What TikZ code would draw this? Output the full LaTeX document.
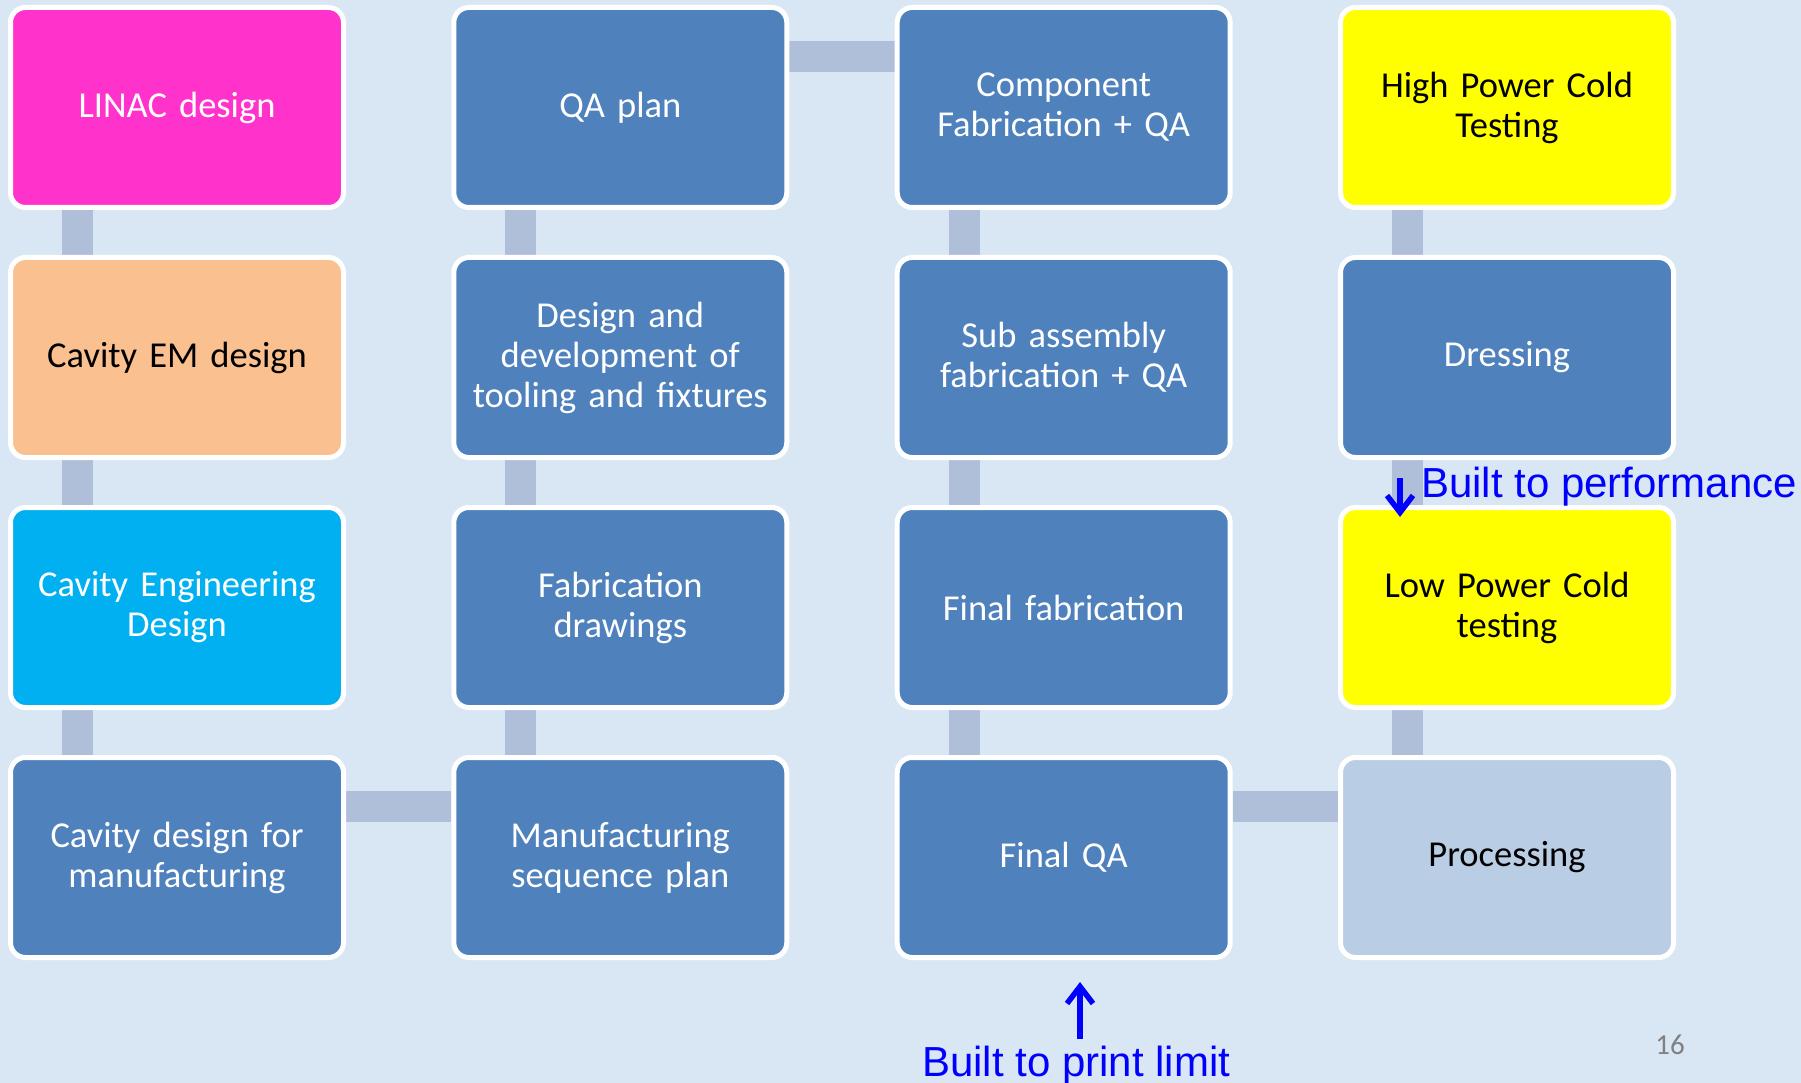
\documentclass[tikz,border=0pt]{standalone}
\usepackage{fontspec}
\setmainfont{Carlito}
\newfontfamily\arialfont{Liberation Sans}
\usetikzlibrary{arrows.meta}
\pgfdeclarelayer{bg}
\pgfdeclarelayer{links}
\pgfsetlayers{bg,links,main}
\definecolor{bgcol}{HTML}{D9E6F4}
\definecolor{pinkbox}{HTML}{FF33CC}
\definecolor{peachbox}{HTML}{FAC090}
\definecolor{cyanbox}{HTML}{00B0F0}
\definecolor{bluebox}{HTML}{4F81BD}
\definecolor{yellowbox}{HTML}{FFFF00}
\definecolor{lightbox}{HTML}{B9CDE5}
\definecolor{linkcol}{HTML}{AFBFDA}
\definecolor{notecol}{HTML}{0000FF}
\definecolor{pagecol}{HTML}{808080}
\tikzset{
  box/.style={rectangle, rounded corners=15pt, draw=white, line width=5pt,
    minimum width=333pt, minimum height=200pt, text width=318pt, inner sep=0pt,
    align=center, font=\fontsize{36.5}{40}\selectfont},
  whitebox/.style={box, fill=#1, text=white},
  blackbox/.style={box, fill=#1, text=black},
  link/.style={draw=linkcol, line width=31pt},
  note/.style={text=notecol, font=\arialfont\fontsize{42}{46}\selectfont, inner sep=0pt},
  notearrow/.style={draw=notecol, line width=5.5pt, -{Straight Barb[length=17pt,width=26pt]}}
}
\begin{document}
\begin{tikzpicture}[x=1pt, y=-1pt]
\begin{pgfonlayer}{bg}
\fill[bgcol] (0,0) rectangle (1801,1083);
\end{pgfonlayer}
\useasboundingbox (0,0) rectangle (1801,1083);

% column 1
\node[whitebox=pinkbox] (a1) at (177,107.5) {LINAC design};
\node[blackbox=peachbox] (a2) at (177,357.5) {Cavity EM design};
\node[whitebox=cyanbox] (a3) at (177,607.5) {Cavity Engineering\\Design};
\node[whitebox=bluebox] (a4) at (177,857.5) {Cavity design for\\manufacturing};
% column 2
\node[whitebox=bluebox] (b1) at (620.3,107.5) {QA plan};
\node[whitebox=bluebox] (b2) at (620.3,357.5) {Design and\\development of\\tooling and fixtures};
\node[whitebox=bluebox] (b3) at (620.3,607.5) {Fabrication\\drawings};
\node[whitebox=bluebox] (b4) at (620.3,857.5) {Manufacturing\\sequence plan};
% column 3
\node[whitebox=bluebox] (c1) at (1063.7,107.5) {Component\\Fabrication + QA};
\node[whitebox=bluebox] (c2) at (1063.7,357.5) {Sub assembly\\fabrication + QA};
\node[whitebox=bluebox] (c3) at (1063.7,607.5) {Final fabrication};
\node[whitebox=bluebox] (c4) at (1063.7,857.5) {Final QA};
% column 4
\node[blackbox=yellowbox] (d1) at (1507,107.5) {High Power Cold\\Testing};
\node[whitebox=bluebox] (d2) at (1507,357.5) {Dressing};
\node[blackbox=yellowbox] (d3) at (1507,607.5) {Low Power Cold\\testing};
\node[blackbox=lightbox] (d4) at (1507,857.5) {Processing};

\begin{pgfonlayer}{links}
\foreach \u/\v in {a1/a2,a2/a3,a3/a4,b1/b2,b2/b3,b3/b4,c1/c2,c2/c3,c3/c4,d1/d2,d2/d3,d3/d4}
  \draw[link] ([xshift=-99.5pt]\u.south) -- ([xshift=-99.5pt]\v.north);
\foreach \u/\v in {a4/b4,b1/c1,c4/d4}
  \draw[link] ([yshift=51pt]\u.east) -- ([yshift=51pt]\v.west);
\end{pgfonlayer}

% notes
\coordinate (perfFrom) at (1400,478);
\coordinate (perfTo) at (1400,517);
\draw[notearrow] (perfFrom) -- (perfTo);
\node[note, anchor=base west] (perf) at (1421,497) {Built to performance};

\coordinate (printFrom) at (1080,1039);
\coordinate (printTo) at (1080,982);
\draw[notearrow] (printFrom) -- (printTo);
\node[note, anchor=base west] (print) at (922,1076) {Built to print limit};

\node[text=pagecol, font=\fontsize{29}{34}\selectfont, anchor=base] (page) at (1670,1054) {16};
\end{tikzpicture}
\end{document}
